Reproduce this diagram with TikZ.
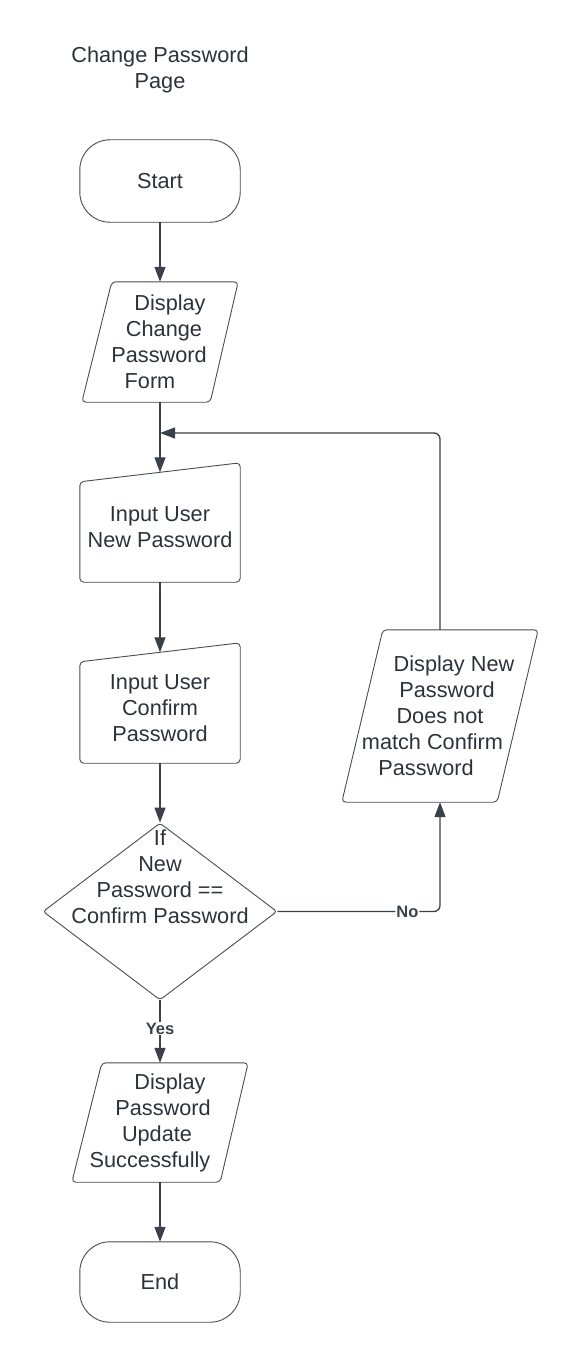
\documentclass[tikz,border=0pt]{standalone}
\usepackage{fontspec}
\setmainfont{Liberation Sans}
\usetikzlibrary{arrows.meta,shapes.geometric}
\definecolor{ln}{RGB}{58,65,74}
\definecolor{bd}{RGB}{72,76,84}
\definecolor{tx}{RGB}{45,50,58}
\begin{document}
\begin{tikzpicture}[x=1pt,y=-1pt,
  txt/.style={font=\fontsize{21.7}{26}\selectfont, text=tx, align=center, inner sep=0pt},
  shp/.style={draw=bd, line width=0.9pt, rounded corners=4pt},
  conn/.style={draw=ln, line width=1.3pt, -{Triangle[length=15pt,width=11pt]}},
  lab/.style={font=\fontsize{16.5}{18}\selectfont\bfseries, text=ln, fill=white, inner sep=1pt}
]
\useasboundingbox (0,0) rectangle (580,1362);

\node[txt] (title) at (160,70) {Change Password\\Page};

% Start
\node[txt, minimum width=160pt, minimum height=82pt] (start) at (160,181) {Start};
\draw[shp, rounded corners=30pt] (start.north west) rectangle (start.south east);

% Display Change Password Form
\node[txt, minimum width=156pt, minimum height=120pt] (d1) at (160,342)
  {\hspace*{20pt}Display\\\hspace*{8pt}Change\\\hspace*{-2pt}Password\\\hspace*{-20pt}Form};
\draw[shp] ([xshift=30pt]d1.north west) -- (d1.north east) -- ([xshift=-28pt]d1.south east) -- (d1.south west) -- cycle;

% Input User New Password
\node[txt, minimum width=160pt, minimum height=109.5pt] (i1) at (160,527.25) {Input User\\New Password};
\draw[shp] ([yshift=-9.5pt]i1.north west) -- ([yshift=9.5pt]i1.north east) -- (i1.south east) -- (i1.south west) -- cycle;

% Input User Confirm Password
\node[txt, minimum width=160pt, minimum height=110.5pt] (i2) at (160,707.75) {Input User\\Confirm\\Password};
\draw[shp] ([yshift=-9.5pt]i2.north west) -- ([yshift=9.5pt]i2.north east) -- (i2.south east) -- (i2.south west) -- cycle;

% Decision
\node[diamond, draw=bd, line width=0.9pt, rounded corners=3pt, minimum width=234pt, minimum height=177pt, inner sep=0pt,
  label={[txt, yshift=35pt]center:{If\\New\\Password ==\\Confirm Password}}] (dec) at (160,911.5) {};

% Display Password Update Successfully
\node[txt, minimum width=176pt, minimum height=119pt] (d2) at (160,1122.5)
  {\hspace*{20pt}Display\\\hspace*{6pt}Password\\\hspace*{-6pt}Update\\\hspace*{-20pt}Successfully};
\draw[shp] ([xshift=30pt]d2.north west) -- (d2.north east) -- ([xshift=-28pt]d2.south east) -- (d2.south west) -- cycle;

% End
\node[txt, minimum width=160pt, minimum height=80pt] (end) at (160,1282) {End};
\draw[shp, rounded corners=30pt] (end.north west) rectangle (end.south east);

% Error message
\node[txt, minimum width=196pt, minimum height=172pt] (err) at (440,716)
  {\hspace*{28pt}Display New\\\hspace*{14pt}Password\\Does not\\\hspace*{-15pt}match Confirm\\\hspace*{-28pt}Password};
\draw[shp] ([xshift=41pt]err.north west) -- (err.north east) -- ([xshift=-41pt]err.south east) -- (err.south west) -- cycle;

\coordinate (merge) at (160,433);

% Connectors
\draw[conn] (start.south) -- (d1.north);
\draw[conn] (d1.south) -- (i1.north);
\draw[conn] (i1.south) -- (i2.north);
\draw[conn] (i2.south) -- (dec.north);
\draw[conn] (dec.south) -- node[lab, pos=0.45]{Yes} (d2.north);
\draw[conn] (d2.south) -- (end.north);
\draw[conn, rounded corners=6pt] (dec.east) -| node[lab, pos=0.4]{No} (err.south);
\draw[conn, rounded corners=6pt] (err.north) |- (merge);
\end{tikzpicture}
\end{document}
